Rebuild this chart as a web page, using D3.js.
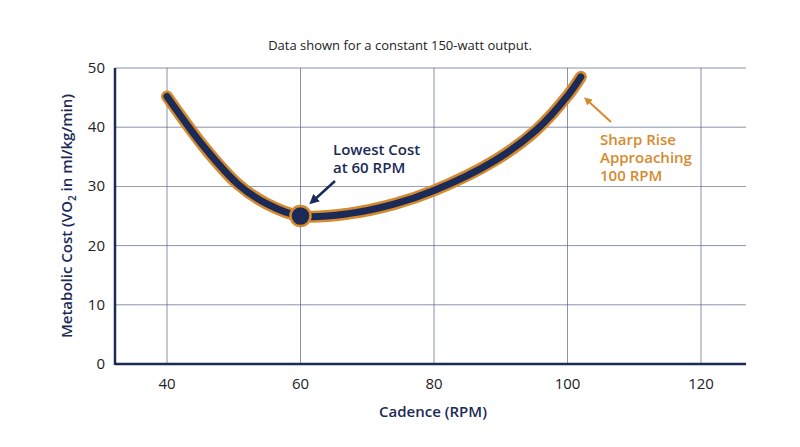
<!DOCTYPE html><html><head><meta charset="utf-8"><script src="https://cdn.jsdelivr.net/npm/d3@7"></script>
<style>body{margin:0;background:#fff}text{font-family:"Open Sans",Lato,sans-serif}</style></head><body>
<svg id="c" width="800" height="447"></svg>
<script>
const cadence=[40,45.6,50.6,54.9,60,67.2,74,80,89,95.3,100,102];
const vo2=[45.2,36.6,30.4,27.1,25.0,25.4,27.0,29.3,34.3,39.5,45.3,48.5];
const xTicks=[40,60,80,100,120];
const yTicks=[0,10,20,30,40,50];
const navy="#1b2a57",orange="#d68a2e",grid="#4a5680";
const svg=d3.select("#c");
const x=d3.scaleLinear().domain([40,120]).range([167,701]);
const y=d3.scaleLinear().domain([0,50]).range([364,68]);
const L=115,R=746;
svg.append("text").attr("x",400).attr("y",50).attr("text-anchor","middle").attr("font-size",13).attr("fill","#222").text("Data shown for a constant 150-watt output.");
const g=svg.append("g");
yTicks.forEach(t=>{if(t>0)g.append("line").attr("x1",L).attr("x2",R).attr("y1",y(t)).attr("y2",y(t)).attr("stroke",grid).attr("stroke-width",0.8).attr("opacity",0.8);
 g.append("text").attr("x",105).attr("y",y(t)+5).attr("text-anchor","end").attr("font-size",15).attr("fill","#222").text(t);});
xTicks.forEach(t=>{g.append("line").attr("x1",x(t)).attr("x2",x(t)).attr("y1",y(50)).attr("y2",y(0)).attr("stroke",grid).attr("stroke-width",0.8).attr("opacity",0.8);
 g.append("text").attr("x",x(t)).attr("y",389).attr("text-anchor","middle").attr("font-size",15).attr("fill","#222").text(t);});
g.append("line").attr("x1",L).attr("x2",L).attr("y1",y(50)).attr("y2",y(0)+1).attr("stroke",navy).attr("stroke-width",2.5);
g.append("line").attr("x1",L).attr("x2",R).attr("y1",y(0)).attr("y2",y(0)).attr("stroke",navy).attr("stroke-width",2.5);
svg.append("text").attr("x",433).attr("y",417).attr("text-anchor","middle").attr("font-size",15).attr("font-weight","600").attr("fill",navy).text("Cadence (RPM)");
const yl=svg.append("text").attr("transform","translate(72,216) rotate(-90)").attr("text-anchor","middle").attr("font-size",15).attr("font-weight","600").attr("fill",navy);
yl.append("tspan").text("Metabolic Cost (VO");yl.append("tspan").attr("font-size",10).attr("dy",4).text("2");yl.append("tspan").attr("dy",-4).text(" in ml/kg/min)");
const pts=cadence.map((c,i)=>[x(c),y(vo2[i])]);
const line=d3.line().curve(d3.curveCatmullRom);
svg.append("path").attr("d",line(pts)).attr("fill","none").attr("stroke",orange).attr("stroke-width",12).attr("stroke-linecap","round");
svg.append("path").attr("d",line(pts)).attr("fill","none").attr("stroke",navy).attr("stroke-width",7).attr("stroke-linecap","round");
svg.append("circle").attr("cx",x(60)).attr("cy",y(25)).attr("r",10).attr("fill",navy).attr("stroke",orange).attr("stroke-width",2.5);
const defs=svg.append("defs");
[["an",navy],["ao",orange]].forEach(([id,c])=>defs.append("marker").attr("id",id).attr("viewBox","0 0 10 10").attr("refX",5).attr("refY",5).attr("markerWidth",4).attr("markerHeight",4).attr("orient","auto").append("path").attr("d","M0,0L10,5L0,10z").attr("fill",c));
svg.append("line").attr("x1",335).attr("y1",181).attr("x2",313).attr("y2",201).attr("stroke",navy).attr("stroke-width",2.5).attr("marker-end","url(#an)");
svg.append("line").attr("x1",611).attr("y1",122).attr("x2",587).attr("y2",100).attr("stroke",orange).attr("stroke-width",2).attr("marker-end","url(#ao)");
const t1=svg.append("text").attr("font-size",15).attr("font-weight","600").attr("fill",navy);
t1.append("tspan").attr("x",333).attr("y",155).text("Lowest Cost");t1.append("tspan").attr("x",333).attr("y",173).text("at 60 RPM");
const t2=svg.append("text").attr("font-size",15).attr("font-weight","600").attr("fill",orange);
["Sharp Rise","Approaching","100 RPM"].forEach((s,i)=>t2.append("tspan").attr("x",600).attr("y",145+i*18).text(s));
</script></body></html>
